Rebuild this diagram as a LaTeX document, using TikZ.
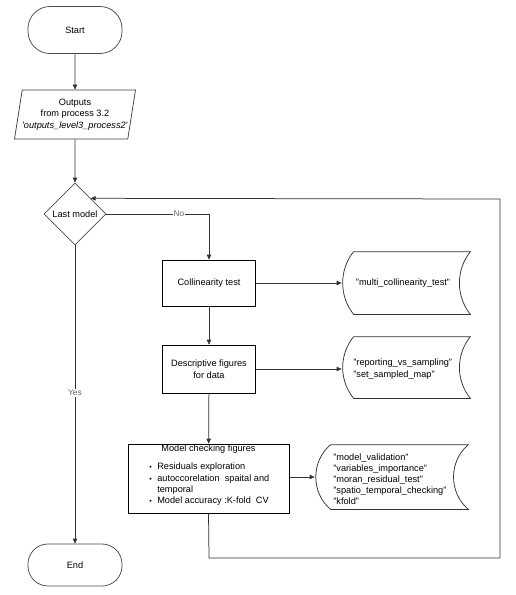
\documentclass[tikz,border=0pt]{standalone}
\usepackage{fontspec}
\setmainfont{Liberation Sans}
\usetikzlibrary{shapes.geometric,arrows.meta}
\begin{document}
\begin{tikzpicture}[x=1pt,y=-1pt,
  font=\fontsize{9.2}{11.5}\selectfont,
  line width=0.75pt,
  term/.style={draw=black!70, rounded corners=22pt, minimum width=94pt, align=center},
  procbox/.style={draw=black, minimum width=93pt, minimum height=46pt, align=center},
  io/.style={draw=black!75, trapezium, trapezium left angle=78.5, trapezium right angle=101.5,
     trapezium stretches body, minimum width=106pt, minimum height=49pt, align=center, inner xsep=0pt},
  decide/.style={draw=black!70, diamond, minimum width=62pt, minimum height=62pt, inner sep=0pt, aspect=1},
  stor/.style={minimum width=#1, inner sep=0pt},
  conn/.style={draw=black!80, -{Triangle[length=5pt,width=4.5pt]}},
  lbl/.style={fill=white, text=black!60, font=\fontsize{8.4}{10}\selectfont, inner sep=1pt}
]
\useasboundingbox (0,0) rectangle (516,595);
\fill[white] (0,0) rectangle (516,595);

% terminals
\node[term, minimum height=47pt] (start) at (75,30) {Start};
\node[term, minimum height=42pt, rounded corners=20pt] (end) at (75,565) {End};

% input
\node[io] (inp) at (75,114.5) {Outputs\\from process 3.2\\\textit{\textquotesingle outputs\_level3\_process2\textquotesingle}};

% decision
\node[decide] (dec) at (75,214) {Last model};

% process boxes
\node[procbox] (coll) at (209,283) {Collinearity test};
\node[procbox, minimum height=48pt] (desc) at (209,369) {Descriptive figures\\for data};
\node[draw=black, minimum width=161pt, minimum height=69pt] (mod) at (208.5,478.5) {};
\node[anchor=north, inner sep=0pt] (modt) at (208.5,444.5) {Model checking figures};
\node[anchor=north west, inner sep=0pt] (modl) at (149,461.5)
  {\fontsize{9.2}{11.3}\selectfont\begin{tabular}{@{}l@{\hspace{5.5pt}}l@{}}
   {\scriptsize\textbullet} & Residuals exploration\\
   {\scriptsize\textbullet} & autoccorelation\ \ spaital and\\
    & temporal\\
   {\scriptsize\textbullet} & Model accuracy :K-fold\ \ CV
  \end{tabular}};

% storage shapes
\node[stor=127pt, minimum height=62pt] (s1) at (406.5,283) {};
\node[stor=127pt, minimum height=61pt] (s2) at (406.5,367.5) {};
\node[stor=152pt, minimum height=64pt] (s3) at (392,477) {};
\foreach \s/\d/\c/\k in {s1/11/14.6/18, s2/11/14.6/18, s3/15/19.8/16.6}{
  \pgfmathsetmacro\lc{\d-\c}
  \draw[black!80] ([xshift=\d pt]\s.north west) -- (\s.north east)
    .. controls ([xshift=-\c pt, yshift=-\k pt]\s.north east) and ([xshift=-\c pt, yshift=\k pt]\s.south east) .. (\s.south east)
    -- ([xshift=\d pt]\s.south west)
    .. controls ([xshift=\lc pt, yshift=\k pt]\s.south west) and ([xshift=\lc pt, yshift=-\k pt]\s.north west) .. ([xshift=\d pt]\s.north west) -- cycle;
}
\node[inner sep=0pt] (s1t) at (403,283) {"multi\_collinearity\_test"};
\node[anchor=west, align=left, inner sep=0pt] (s2t) at (353,369) {"reporting\_vs\_sampling"\\"set\_sampled\_map"};
\node[anchor=west, align=left, inner sep=0pt, font=\fontsize{9.2}{11}\selectfont] (s3t) at (333,479)
  {"model\_validation"\\"variables\_importance"\\"moran\_residual\_test"\\"spatio\_temporal\_checking"\\"kfold"};

% connectors
\draw[conn] (start) -- (inp);
\draw[conn] (inp) -- (dec);
\draw[conn] (dec) -- node[lbl, pos=0.495] (yes) {Yes} (end);
\draw[conn] (dec.east) -- (209,214) -- (coll.north);
\node[lbl] (no) at (179,214) {No};
\draw[conn] (coll) -- (desc);
\draw[conn] (desc) -- (mod);
\draw[conn] (coll) -- ([xshift=-1pt]s1.west);
\draw[conn] (desc.east |- s2t) -- ([xshift=-1pt]s2.west |- s2t);
\draw[conn] (mod.east |- s3.west) -- ([xshift=-1pt]s3.west);
\coordinate (lb) at (209,558);
\coordinate (rb) at (500,558);
\coordinate (rt) at (500,199);
\draw[conn] (mod.south) -- (lb) -- (rb) -- (rt) -- (dec.north east);
\end{tikzpicture}
\end{document}
